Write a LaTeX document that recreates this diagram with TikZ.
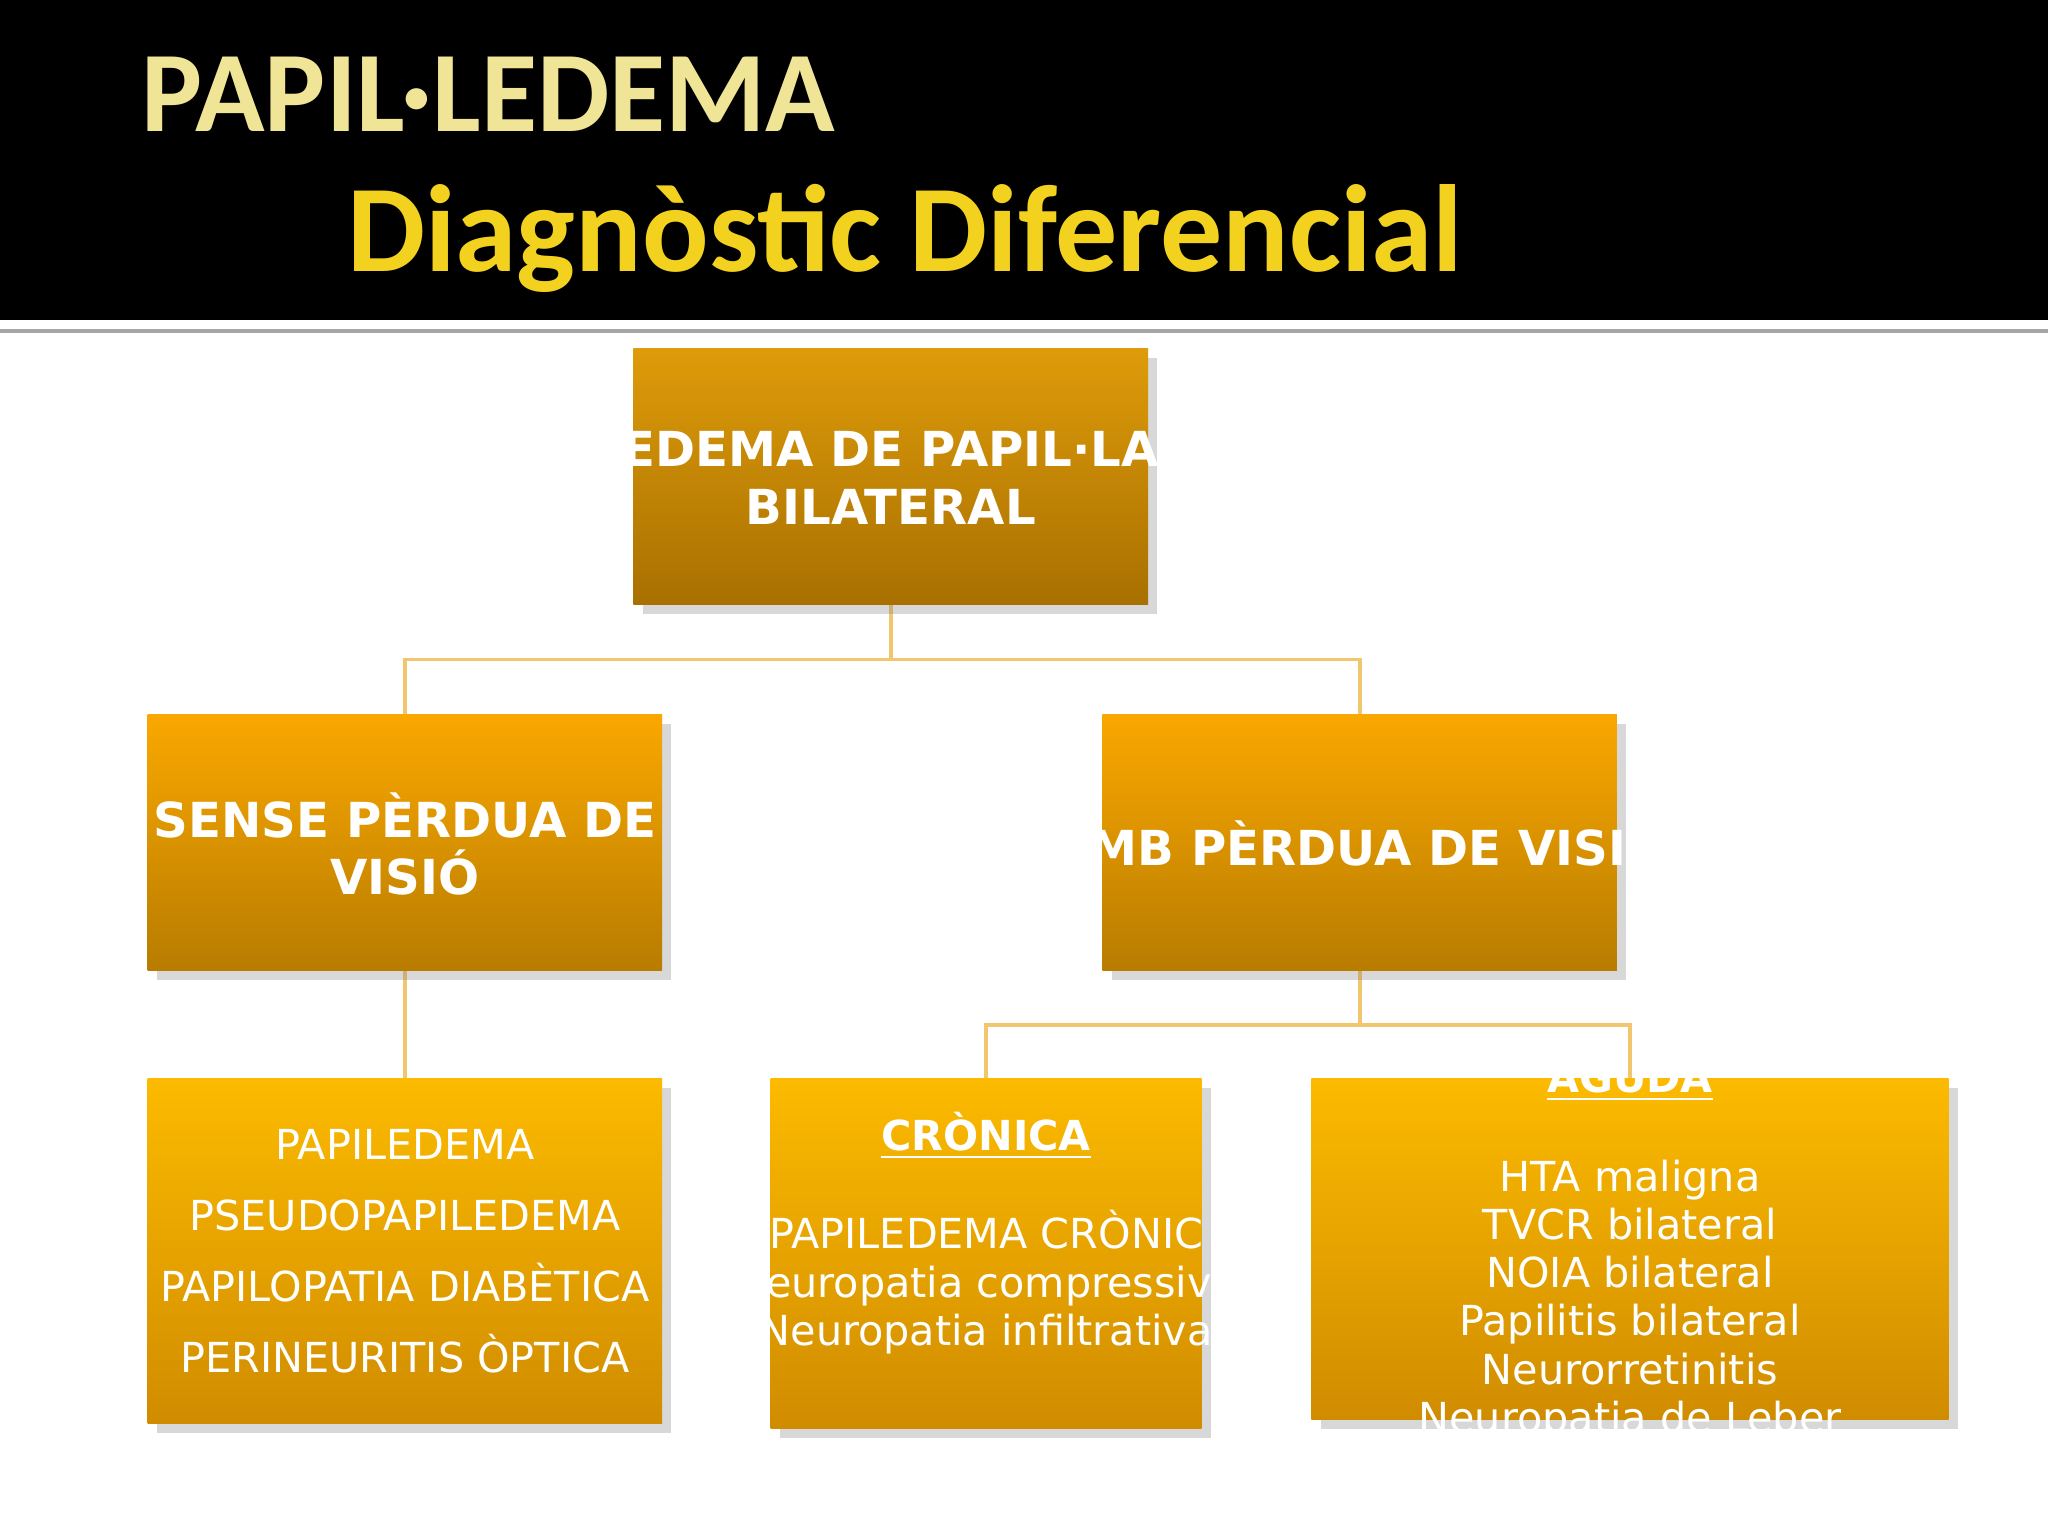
\documentclass[tikz,border=0pt]{standalone}
\usepackage{fontspec}
\setmainfont{DejaVu Sans}
\newfontfamily\titlefont{Carlito}
\usetikzlibrary{shadows}
\definecolor{line}{HTML}{F2C66E}
\tikzset{
 boxA/.style={draw=none,top color=#1,bottom color=#1!60!black!45!orange!80!black,drop shadow={opacity=0.35,shadow xshift=2pt,shadow yshift=-2pt}},
 conn/.style={draw=line,line width=0.8pt},
 bt/.style={text=white,font=\bfseries\fontsize{10.5}{12.5}\selectfont,align=center},
 lt/.style={text=white,font=\fontsize{9}{10.5}\selectfont,align=center},
}
\begin{document}
\begin{tikzpicture}[x=0.01cm,y=-0.01cm]
\useasboundingbox (0,0) rectangle (1568,1176);
\fill[white] (0,0) rectangle (1568,1176);
\fill[black] (0,0) rectangle (1568,245);
\fill[gray!70] (0,252) rectangle (1568,255);
\node[anchor=base west,inner sep=0,text={rgb,255:red,240;green,228;blue,150},font=\titlefont\bfseries\fontsize{25}{25}\selectfont] (t1) at (108,101) {PAPIL·LEDEMA};
\node[anchor=base west,inner sep=0,text={rgb,255:red,242;green,210;blue,30},font=\titlefont\bfseries\fontsize{27}{27}\selectfont] (t2) at (265,208) {Diagnòstic Diferencial};
% connectors
\coordinate (j1) at (682,505); \coordinate (j2) at (1041,785);
\draw[conn] (682,463) -- (682,505) (310,547) |- (1041,505) -- (1041,547);
\draw[conn] (310,743) -- (310,826);
\draw[conn] (1041,743) -- (1041,785) (755,826) |- (1248,785) -- (1248,826);
% boxes
\shade[top color={rgb,255:red,222;green,155;blue,10},bottom color={rgb,255:red,168;green,112;blue,0},drop shadow={opacity=0.3,shadow xshift=2pt,shadow yshift=-2pt}] (485,267) rectangle (879,463);
\node[bt] (top) at (682,366) {EDEMA DE PAPIL·LA\\BILATERAL};
\foreach \a/\b in {113/507,844/1238}{
\shade[top color={rgb,255:red,250;green,168;blue,0},bottom color={rgb,255:red,184;green,124;blue,0},drop shadow={opacity=0.3,shadow xshift=2pt,shadow yshift=-2pt}] (\a,547) rectangle (\b,743);}
\node[bt] (sense) at (310,646) {SENSE PÈRDUA DE\\VISIÓ};
\node[bt] (amb) at (1041,646) {AMB PÈRDUA DE VISIÓ};
\foreach \a/\b/\c in {113/507/1090,590/920/1094,1004/1492/1087}{
\shade[top color={rgb,255:red,252;green,186;blue,0},bottom color={rgb,255:red,208;green,140;blue,0},drop shadow={opacity=0.3,shadow xshift=2pt,shadow yshift=-2pt}] (\a,826) rectangle (\b,\c);}
\node[lt,font=\fontsize{9}{15.5}\selectfont] (b1) at (310,958) {PAPILEDEMA\\PSEUDOPAPILEDEMA\\PAPILOPATIA DIABÈTICA\\PERINEURITIS ÒPTICA};
\node[lt] (b2) at (755,944) {\textbf{\underline{CRÒNICA}}\\[11pt]PAPILEDEMA CRÒNIC\\Neuropatia compressiva\\Neuropatia infiltrativa};
\node[lt] (b3) at (1248,958) {\textbf{\underline{AGUDA}}\\[11pt]HTA maligna\\TVCR bilateral\\NOIA bilateral\\Papilitis bilateral\\Neurorretinitis\\Neuropatia de Leber};
\end{tikzpicture}
\end{document}
